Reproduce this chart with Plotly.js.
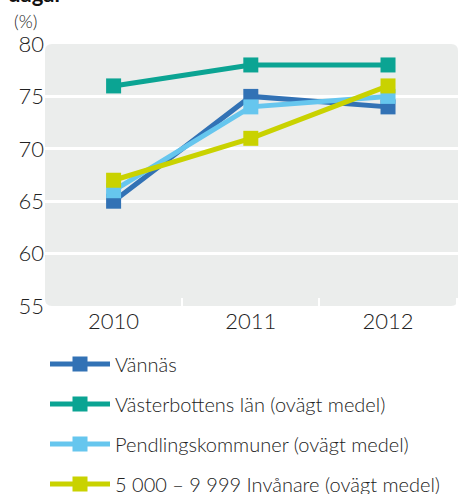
<!DOCTYPE html>
<html>
<head>
<meta charset="utf-8">
<script src="https://cdn.plot.ly/plotly-3.0.1.min.js"></script>
<style>html,body{margin:0;padding:0;background:#fff;}#chart{width:461px;height:494px;}</style>
</head>
<body>
<div id="chart"></div>
<script>
const years = ['2010', '2011', '2012'];
const seriesNames = ['Vännäs', 'Västerbottens län (ovägt medel)', 'Pendlingskommuner (ovägt medel)', '5 000 – 9 999 Invånare (ovägt medel)'];
const vannas = [65, 75, 74];
const vasterbotten = [76, 78, 78];
const pendling = [66, 74, 75];
const invanare = [67, 71, 76];
const yTicks = [55, 60, 65, 70, 75, 80];

const colors = ['#3272b5', '#0ba493', '#66c6ee', '#c9d200'];
const values = [vannas, vasterbotten, pendling, invanare];
const FONT = 'Lato, "Open Sans", sans-serif';

const traces = values.map((v, i) => ({
  x: years,
  y: v,
  name: seriesNames[i],
  type: 'scatter',
  mode: 'lines+markers',
  legendgroup: 'g' + i,
  line: {color: colors[i], width: 5},
  marker: {color: colors[i], symbol: 'square', size: 15}
}));

const rx = 7 / 413, ry = 7 / 262;
const bgPath = `M ${rx},0 L ${1 - rx},0 Q 1,0 1,${ry} L 1,${1 - ry} Q 1,1 ${1 - rx},1 L ${rx},1 Q 0,1 0,${1 - ry} L 0,${ry} Q 0,0 ${rx},0 Z`;

const layout = {
  width: 461,
  height: 494,
  margin: {l: 45, r: 3, t: 44, b: 188, autoexpand: false},
  paper_bgcolor: '#ffffff',
  plot_bgcolor: 'rgba(0,0,0,0)',
  font: {family: FONT, color: '#222', size: 20, weight: 300},
  showlegend: true,
  legend: {
    orientation: 'v',
    x: 0.0, xanchor: 'left',
    y: -0.147, yanchor: 'top',
    font: {family: FONT, size: 20, color: '#222', weight: 300},
    tracegroupgap: 11,
    itemwidth: 60,
    bgcolor: 'rgba(0,0,0,0)'
  },
  xaxis: {
    type: 'category',
    range: [-0.5, 2.51],
    showgrid: false,
    zeroline: false,
    showline: false,
    ticks: 'inside',
    tickson: 'boundaries',
    ticklen: 8,
    tickwidth: 2,
    tickcolor: '#ffffff',
    tickfont: {family: FONT, size: 22, color: '#222', weight: 300},
    fixedrange: true
  },
  yaxis: {
    range: [55, 80],
    tickvals: yTicks,
    ticktext: yTicks.map(String),
    showgrid: true,
    gridcolor: '#ffffff',
    gridwidth: 3,
    zeroline: false,
    showline: false,
    ticks: '',
    tickfont: {family: FONT, size: 22, color: '#222', weight: 300},
    fixedrange: true
  },
  shapes: [{
    type: 'path', xref: 'paper', yref: 'paper', path: bgPath,
    fillcolor: '#ebedec', line: {width: 0}, layer: 'below'
  }],
  annotations: [
    {text: '<b>dagar</b>', xref: 'paper', yref: 'paper', x: -0.095, y: 1.133, xanchor: 'left', yanchor: 'bottom', showarrow: false, font: {family: FONT, size: 22, color: '#111'}},
    {text: '(%)', xref: 'paper', yref: 'paper', x: -0.048, y: 1.088, xanchor: 'center', yanchor: 'middle', showarrow: false, font: {family: FONT, size: 18, color: '#222', weight: 300}}
  ]
};

Plotly.newPlot('chart', traces, layout, {displayModeBar: false, staticPlot: true});
</script>
</body>
</html>
